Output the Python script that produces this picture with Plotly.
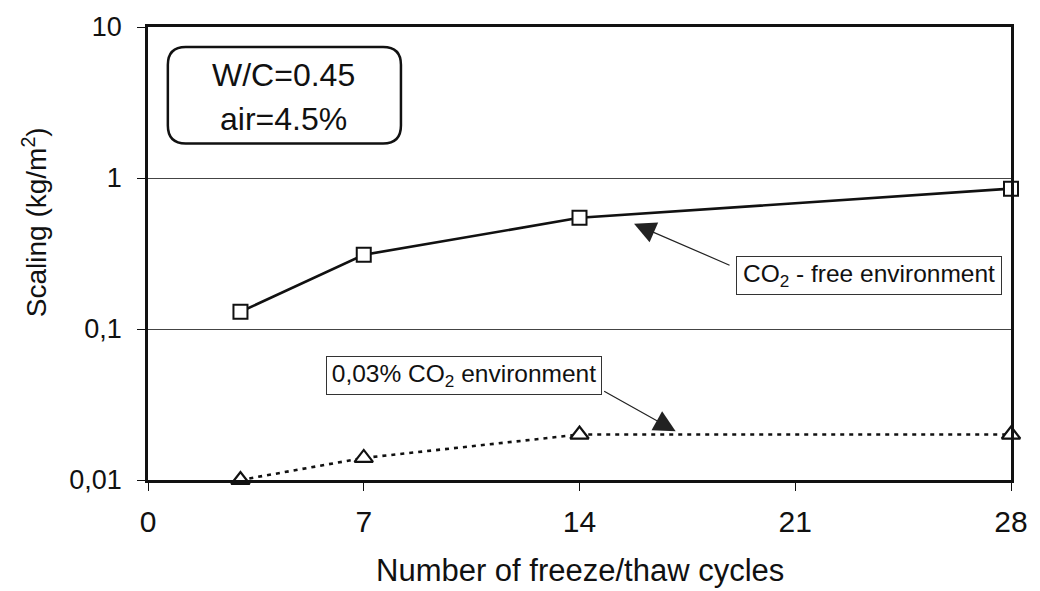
import math
import plotly.graph_objects as go

# Freeze/thaw scaling data
cycles = [3, 7, 14, 28]
scaling_co2_free = [0.13, 0.31, 0.545, 0.85]
scaling_co2_003 = [0.01, 0.014, 0.02, 0.02]

x_ticks = [0, 7, 14, 21, 28]
y_ticks = [0.01, 0.1, 1, 10]
y_tick_text = ["0,01", "0,1", "1", "10"]

FONT = "Liberation Sans, Arial, sans-serif"
INK = "#111111"

fig = go.Figure()

fig.add_trace(go.Scatter(
    x=cycles, y=scaling_co2_free, mode="lines+markers",
    line=dict(color=INK, width=2.6),
    marker=dict(symbol="square", size=14, color="white",
                line=dict(color=INK, width=2)),
    cliponaxis=False, showlegend=False,
))

fig.add_trace(go.Scatter(
    x=cycles, y=scaling_co2_003, mode="lines+markers",
    line=dict(color=INK, width=2.6, dash="4px,5px"),
    marker=dict(symbol="triangle-up", size=16, color="white",
                line=dict(color=INK, width=2.2)),
    cliponaxis=False, showlegend=False,
))

fig.update_xaxes(
    range=[0, 28], tickvals=x_ticks, ticktext=[str(v) for v in x_ticks],
    showgrid=False, zeroline=False,
    showline=True, mirror=True, linecolor=INK, linewidth=2.5,
    ticks="outside", ticklen=8, tickwidth=1, tickcolor=INK,
    ticklabelstandoff=5,
    tickfont=dict(family=FONT, size=30, color=INK),
)
fig.update_yaxes(
    type="log", range=[-2, 1], tickvals=y_ticks, ticktext=y_tick_text,
    showgrid=True, gridcolor="#444444", gridwidth=1, zeroline=False,
    showline=True, mirror=True, linecolor=INK, linewidth=2.5,
    ticks="outside", ticklen=8, tickwidth=1, tickcolor=INK,
    ticklabelstandoff=10,
    tickfont=dict(family=FONT, size=27, color=INK),
)

# Axis titles
fig.add_annotation(
    text="Scaling (kg/m<sup>2</sup>)", xref="paper", yref="paper",
    x=-0.131, y=0.569, textangle=-90, showarrow=False,
    xanchor="center", yanchor="middle",
    font=dict(family=FONT, size=28, color=INK),
)
fig.add_annotation(
    text="Number of freeze/thaw cycles", xref="paper", yref="paper",
    x=0.5, y=-0.2, showarrow=False, xanchor="center", yanchor="middle",
    font=dict(family=FONT, size=31, color=INK),
)

# Rounded box with mix parameters
bx0, bx1, by0, by1 = 0.023, 0.2931, 0.743, 0.956
rx, ry = 0.0207, 0.0396
path = (
    f"M{bx0 + rx},{by1} L{bx1 - rx},{by1} Q{bx1},{by1} {bx1},{by1 - ry} "
    f"L{bx1},{by0 + ry} Q{bx1},{by0} {bx1 - rx},{by0} "
    f"L{bx0 + rx},{by0} Q{bx0},{by0} {bx0},{by0 + ry} "
    f"L{bx0},{by1 - ry} Q{bx0},{by1} {bx0 + rx},{by1} Z"
)
fig.add_shape(type="path", path=path, xref="paper", yref="paper",
              line=dict(color=INK, width=2.5), fillcolor="white")
fig.add_annotation(text="W/C=0.45", xref="paper", yref="paper",
                   x=0.1575, y=0.894, showarrow=False,
                   xanchor="center", yanchor="middle",
                   font=dict(family=FONT, size=32, color=INK))
fig.add_annotation(text="air=4.5%", xref="paper", yref="paper",
                   x=0.1575, y=0.797, showarrow=False,
                   xanchor="center", yanchor="middle",
                   font=dict(family=FONT, size=32, color=INK))

# Series labels with pointer arrows
fig.add_annotation(
    text="CO<sub>2</sub> - free environment", xref="paper", yref="paper",
    x=0.835, y=0.4516, showarrow=False, xanchor="center", yanchor="middle",
    width=260, height=33, borderpad=2, borderwidth=1, bordercolor="#333",
    bgcolor="white", font=dict(family=FONT, size=24.5, color=INK),
)
fig.add_annotation(
    text="0,03% CO<sub>2</sub> environment", xref="paper", yref="paper",
    x=0.3661, y=0.2297, showarrow=False, xanchor="center", yanchor="middle",
    width=270, height=33, borderpad=2, borderwidth=1, bordercolor="#333",
    bgcolor="white", font=dict(family=FONT, size=24.5, color=INK),
)
fig.add_annotation(
    text="", x=15.77, y=math.log10(0.497), xref="x", yref="y",
    showarrow=True, ax=97, ay=42, arrowhead=2, arrowsize=3.6,
    arrowwidth=1.2, arrowcolor="#222", standoff=0,
)
fig.add_annotation(
    text="", x=17.12, y=math.log10(0.021), xref="x", yref="y",
    showarrow=True, ax=-73, ay=-41, arrowhead=2, arrowsize=3.6,
    arrowwidth=1.2, arrowcolor="#222", standoff=0,
)

fig.update_layout(
    width=1040, height=591,
    margin=dict(l=148, r=22, t=25, b=111),
    plot_bgcolor="white", paper_bgcolor="white",
    font=dict(family=FONT, color=INK),
)

fig.write_html("out.html")
